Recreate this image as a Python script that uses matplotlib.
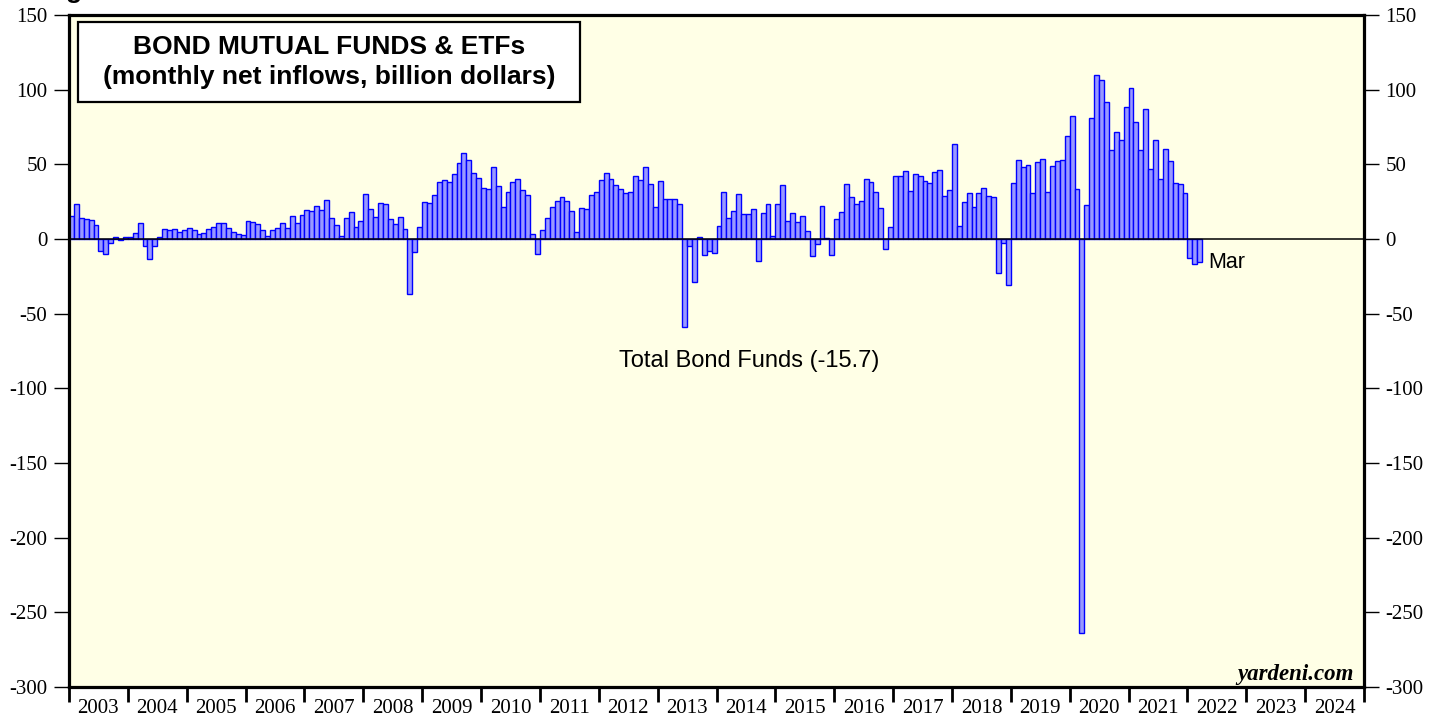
import matplotlib
matplotlib.use("Agg")
import matplotlib.pyplot as plt
import numpy as np
from matplotlib.patches import Rectangle

# ---- data: monthly net inflows (billion $), Jan 2003 .. Mar 2022 ----
y2003 = [15.4, 23.2, 13.8, 13.4, 12.5, 9.1, -7.8, -10.0, -2.9, 1.6, -0.9, 1.6]
y2004 = [1.6, 4.2, 10.9, -4.7, -13.4, -4.7, 1.6, 6.5, 5.8, 6.5, 4.7, 5.8]
y2005 = [7.6, 5.8, 3.1, 4.0, 6.5, 8.2, 10.9, 10.7, 7.1, 4.5, 3.3, 2.7]
y2006 = [11.8, 11.1, 10.2, 5.8, 2.2, 5.8, 7.1, 10.5, 7.6, 15.1, 10.9, 15.8]
y2007 = [19.2, 18.9, 21.8, 19.2, 26.3, 14.3, 9.6, 1.8, 13.8, 18.3, 8.0, 12.2]
y2008 = [29.8, 20.3, 14.9, 24.3, 23.2, 13.4, 10.2, 14.5, 6.5, -36.7, -8.7, 7.8]
y2009 = [24.7, 24.1, 29.6, 38.1, 39.2, 38.5, 43.7, 51.0, 57.7, 52.6, 44.5, 41.0]
y2010 = [33.9, 33.2, 48.3, 35.6, 21.6, 31.2, 37.9, 39.9, 33.0, 29.6, 3.1, -10.2]
y2011 = [5.8, 14.3, 21.6, 25.4, 28.3, 25.6, 18.9, 4.9, 20.9, 19.8, 29.6, 31.4]
y2012 = [39.2, 44.1, 40.5, 36.3, 33.4, 31.0, 31.6, 42.5, 39.4, 48.3, 36.5, 21.4]
y2013 = [39.0, 26.9, 26.9, 26.5, 23.2, -59.2, -4.9, -29.0, 1.6, -10.7, -7.8, -9.4]
y2014 = [8.9, 31.2, 13.8, 18.9, 29.8, 16.5, 16.9, 19.8, -14.5, 17.1, 23.2, 2.0]
y2015 = [23.6, 36.3, 11.8, 17.6, 11.4, 15.1, 5.6, -11.4, -3.6, 21.8, 0.9, -10.7]
y2016 = [13.4, 17.8, 36.5, 28.3, 23.2, 25.2, 39.9, 37.9, 31.6, 20.9, -6.5, 8.0]
y2017 = [41.9, 41.9, 45.7, 32.1, 43.4, 41.9, 38.8, 37.2, 44.8, 46.3, 29.0, 33.0]
y2018 = [63.9, 8.5, 24.7, 30.5, 21.2, 30.5, 34.3, 28.5, 27.8, -22.7, -2.9, -30.7]
y2019 = [37.6, 53.0, 48.1, 49.4, 30.5, 51.7, 53.7, 31.6, 48.6, 52.3, 53.0, 69.0]
y2020 = [82.2, 33.2, -264.0, 22.7, 81.1, 109.8, 106.5, 91.8, 59.9, 71.7, 66.1, 88.6]
y2021 = [101.1, 78.4, 59.5, 87.1, 47.0, 66.4, 40.3, 60.4, 52.3, 37.6, 36.5, 30.5]
y2022 = [-12.5, -16.9, -15.7]

values = (y2003 + y2004 + y2005 + y2006 + y2007 + y2008 + y2009 + y2010 +
          y2011 + y2012 + y2013 + y2014 + y2015 + y2016 + y2017 + y2018 +
          y2019 + y2020 + y2021 + y2022)
start_year = 2003
years = list(range(2003, 2025))
yticks = [150, 100, 50, 0, -50, -100, -150, -200, -250, -300]

title_lines = ["BOND MUTUAL FUNDS & ETFs", "(monthly net inflows, billion dollars)"]
series_label = "Total Bond Funds (-15.7)"
last_label = "Mar"

# ---- figure ----
W, H = 1442, 719
fig = plt.figure(figsize=(W / 100, H / 100), dpi=100)
L, R, T, B = 69, 1364, 15, 687
ax = fig.add_axes([L / W, 1 - B / H, (R - L) / W, (B - T) / H])
ax.set_facecolor("#FFFFE6")

x = start_year + np.arange(len(values)) / 12.0
ax.bar(x, values, width=1 / 12.0, align="edge", color="#9999FF",
       edgecolor="#0000FF", linewidth=1.0, zorder=2)
ax.axhline(0, color="black", linewidth=1.1, zorder=3)

ax.set_xlim(2003, 2025)
ax.set_ylim(-300, 150)

for s in ax.spines.values():
    s.set_linewidth(2.3)
    s.set_color("black")
    s.set_zorder(5)

serif = "Liberation Serif"
ax.set_yticks(yticks)
ax.set_yticklabels([str(v) for v in yticks], fontfamily=serif, fontsize=15)
ax.tick_params(axis="y", which="major", direction="out", length=11, width=1.0,
               left=True, right=True, labelleft=True, labelright=True, pad=4.5,
               colors="black")

ax.set_xticks(years + [2025])
ax.set_xticklabels([])
ax.tick_params(axis="x", which="major", direction="out", length=11, width=2.0)
ax.set_xticks([yv + 0.5 for yv in years], minor=True)
ax.set_xticklabels([str(yv) for yv in years], minor=True, fontfamily=serif, fontsize=15)
ax.tick_params(axis="x", which="minor", length=0, pad=8.5)

# title box
box_x0, box_x1 = (78 - L) / (R - L), (580 - L) / (R - L)
box_y1, box_y0 = (B - 22) / (B - T), (B - 102) / (B - T)
ax.add_patch(Rectangle((box_x0, box_y0), box_x1 - box_x0, box_y1 - box_y0,
                       transform=ax.transAxes, facecolor="white", edgecolor="black",
                       linewidth=1.6, zorder=6))
cx = (box_x0 + box_x1) / 2
ax.text(cx, (B - 47) / (B - T), title_lines[0], transform=ax.transAxes,
        ha="center", va="center", fontsize=19, fontweight="bold",
        fontfamily="Liberation Sans", zorder=7)
ax.text(cx, (B - 77) / (B - T), title_lines[1], transform=ax.transAxes,
        ha="center", va="center", fontsize=19, fontweight="bold",
        fontfamily="Liberation Sans", zorder=7)

ax.text(2014.56, -81.5, series_label, ha="center", va="center", fontsize=17,
        fontfamily="Liberation Sans", zorder=7)
ax.text(x[-1] + 1 / 12.0 + 0.1, values[-1], last_label, ha="left", va="center",
        fontsize=15.5, fontfamily="Liberation Sans", zorder=7)

ax.text((1354 - L) / (R - L), (B - 680) / (B - T), "yardeni.com",
        transform=ax.transAxes, ha="right", va="baseline", fontsize=16.5,
        fontfamily=serif, fontweight="bold", fontstyle="italic", zorder=7)

fig.text(66 / W, 1 + 1.5 / H, "g", ha="left", va="baseline", fontsize=19,
         fontweight="bold", fontfamily="Liberation Sans")

fig.savefig("out.png", dpi=100, facecolor="white")
